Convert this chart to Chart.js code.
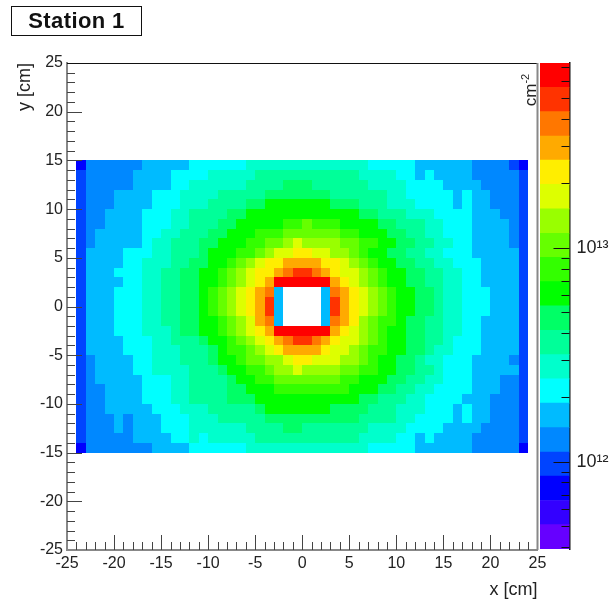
<!DOCTYPE html>
<html>
<head>
<meta charset="utf-8">
<script src="https://cdn.jsdelivr.net/npm/chart.js@4"></script>
<style>
  html, body { margin: 0; padding: 0; background: #fff; }
  #wrap { position: relative; width: 612px; height: 599px; overflow: hidden; font-family: "Liberation Sans", sans-serif; }
  canvas { position: absolute; left: 0; top: 0; filter: blur(0.45px); }
  #title { position: absolute; left: 11px; top: 6px; width: 129px; height: 28px; border: 1.5px solid #111; text-align: center;
           font-weight: bold; font-size: 22px; line-height: 28px; color: #111; letter-spacing: 0.4px; }
  #unit { position: absolute; left: 507px; top: 81px; width: 48px; height: 18px; line-height: 18px; font-size: 17px; color: #222;
          transform: rotate(-90deg); text-align: center; white-space: nowrap; }
  #unit sup { font-size: 11px; line-height: 0; }
</style>
</head>
<body>
<div id="wrap">
  <canvas id="map" width="612" height="599"></canvas>
  <canvas id="bar" width="612" height="599"></canvas>
  <div id="title">Station 1</div>
  <div id="unit">cm<sup>-2</sup></div>
</div>
<script>
// colour band per bin, top row (y 14..15) first, x -24..24. digits/letters index levelColors, '.' = empty
const levelRows = [
  '2 444444 55555 666666 777777  7777777 66666 555555 4444 3 2',
  '3 44444 5555 6666 77777 88888  888888 7777 66 5 6 5555 44444 3',
  '3 44444 5555 66 777777 8888 99  9 888888 7777 6666 5555 4444 3',
  '3 444 5555 666 7777 88888 9999  999 888888 77 66666 5 6 55 444 3',
  '3 444 5555 666 777 8888 99 aaaa  aaa 999 888 777 6666 5 6 55 444 3',
  '3 44 5555 666 77 8888 99 aaaaaa  aaaaaa 99 888 777 6666 555 44 3',
  '3 44 5555 666 77 888 99 aaaaa bb  c bbb aaaa 99 888 77 666 5555 4 3',
  '3 4 55555 66 77 888 99 aaa bbb cc  cccc bb aaa 99 88 77 666 5555 4 3',
  '3 4 55555 6 77 888 99 aaa bb cc d e  dddd cc bb aa 99 88 77 66 5555 4 3',
  '3 5555 666 77 888 9 aaa bb c d ee f  f ee dd c b aa 99 88 77 666 55555 3',
  '3 5555 66 777 88 99 aa b c d e ff gg  gg f f e d c b aa 99 88 77 666 5555 3',
  '3 555 666 77 88 99 aa b c d e f f g h i  i h g f e e d c b aa 99 88 77 66 5555 3',
  '3 5555 66 77 88 99 aa b c d e f g jjj  jjj g f e d c b aa 99 88 77 66 5555 3',
  '3 555 666 77 88 99 a b c d e f g h 5 ..  .. 5 h g f e d c b aa 99 8 77 666 555 3',
  '3 555 666 77 88 99 a b c d e f g i 5 ..  .. 5 i g f e d c b aa 99 8 77 666 555 3',
  '3 555 666 77 88 99 a b c d e f g i 5 ..  .. 5 i g f e d c b aa 99 8 77 666 555 3',
  '3 555 666 77 88 99 a a b c d e g h 5 ..  .. 5 h g f d c b b a 99 88 77 66 5555 3',
  '3 555 666 777 8 99 aa b c d e f g jjj  jjj g f e d c b aa 99 88 77 66 5555 3',
  '3 5555 666 77 888 9 aa b c d e f g h i  i h g f e e d c b aa 99 88 7 666 5555 3',
  '3 5555 666 777 888 9 a bb c d e f gg  gg f e e d c b b aa 99 8 77 666 5555 3',
  '3 4 5555 66 777 888 9 aa b cc d d e f  f eee dd c b aa 99 8 77 666 5555 4 3',
  '3 4 5555 66 7777 888 9 aa bb c dd e  dddd cc bb aa 99 88 7 666 55555 3',
  '3 4 55555 666 77 8888 9 aa bb ccc  cccc bb aaa 99 88 77 666 555 44 3',
  '3 44 5555 666 77 8888 99 aaa bbb  bbbbb aaa 99 88 77 6666 555 44 3',
  '3 44 5555 666 77 8888 999 aaaaa  aaaaaa 99 888 77 6666 555 444 3',
  '3 44 55555 666 777 88888 9 aaaa  aaa 9999 888 777 666 5 6 55 444 3',
  '3 444 5 4 555 666 777 88888 9999  999999 8888 77 6666 5 6 55 444 3',
  '3 444 5 4 555 666 777777 8888 99  8888888 7777 6666 5555 4444 3',
  '3 44444 5555 66 7 6 77777 88888  888888 7777 66 5 6 5555 44444 3',
  '2 4444444 5555 666666 777777  7777777 66666 555555 44444 2'
];

const levelColors = [
  '#6600ff', '#3300ff', '#0000ff', '#0044ff', '#0088ff', '#00bbff', '#00ffff', '#00ffcc', '#00ff99', '#00ff66',
  '#00ff00', '#33ff00', '#66ff00', '#99ff00', '#ddff00', '#ffee00', '#ffaa00', '#ff7700', '#ff3300', '#ff0000'
];

// colour bar band edges in cm-2, bottom to top
const levelEdges = [
  3.91e11, 5.08e11, 6.59e11, 8.57e11, 1.11e12, 1.445e12, 1.88e12, 2.44e12, 3.17e12, 4.11e12, 5.35e12,
  6.95e12, 9.02e12, 1.17e13, 1.52e13, 1.98e13, 2.57e13, 3.33e13, 4.33e13, 5.62e13, 7.31e13
];

const zMajorTicks = [1e12, 1e13];
const zMinorTicks = [4e11, 5e11, 6e11, 7e11, 8e11, 9e11, 2e12, 3e12, 4e12, 5e12, 6e12, 7e12, 8e12, 9e12,
  2e13, 3e13, 4e13, 5e13, 6e13, 7e13];

const axisTicks = [-25, -20, -15, -10, -5, 0, 5, 10, 15, 20, 25];
const axisMinor = [];
for (let v = -25; v <= 25; v++) if (v % 5 !== 0) axisMinor.push(v);

const xStart = -24, yTop = 15;
const cells = [];
levelRows.forEach((row, r) => {
  row.replace(/\s/g, '').split('').forEach((ch, c) => {
    if (ch === '.') return;
    cells.push({ x: xStart + c + 0.5, y: yTop - r - 0.5, level: parseInt(ch, 20) });
  });
});

const FONT = "'Liberation Sans', sans-serif";
const TEXT = '#222';

function fitHeight(h) { return scale => { scale.height = h; }; }
function fitWidth(w) { return scale => { scale.width = w; }; }

// filled bins, ticks pointing inwards and the open sides of the frame
const mapPlugin = {
  id: 'mapPlugin',
  beforeDatasetsDraw(chart) {
    const { ctx, scales: { x, y } } = chart;
    ctx.save();
    chart.data.datasets[0].data.forEach(d => {
      const x0 = Math.round(x.getPixelForValue(d.x - 0.5));
      const x1 = Math.round(x.getPixelForValue(d.x + 0.5));
      const y0 = Math.round(y.getPixelForValue(d.y + 0.5));
      const y1 = Math.round(y.getPixelForValue(d.y - 0.5));
      ctx.fillStyle = levelColors[d.level];
      ctx.fillRect(x0, y0, x1 - x0, y1 - y0);
    });
    ctx.restore();
  },
  afterDatasetsDraw(chart) {
    const { ctx, chartArea: a, scales: { x, y } } = chart;
    ctx.save();
    ctx.strokeStyle = '#444';
    ctx.lineWidth = 1;
    ctx.beginPath();
    const tick = (v, len) => {
      const px = Math.round(x.getPixelForValue(v)) + 0.5;
      ctx.moveTo(px, a.bottom);
      ctx.lineTo(px, a.bottom - len);
      const py = Math.round(y.getPixelForValue(v)) + 0.5;
      ctx.moveTo(a.left, py);
      ctx.lineTo(a.left + len, py);
    };
    axisTicks.slice(1, -1).forEach(v => tick(v, 15));
    axisMinor.forEach(v => tick(v, 8));
    ctx.stroke();
    ctx.strokeStyle = '#111';
    ctx.beginPath();
    ctx.moveTo(a.left, a.top + 0.5);
    ctx.lineTo(a.right, a.top + 0.5);
    ctx.stroke();
    ctx.strokeStyle = '#888';
    ctx.lineWidth = 2;
    ctx.beginPath();
    ctx.moveTo(a.right, a.top);
    ctx.lineTo(a.right, a.bottom);
    ctx.stroke();
    ctx.restore();
  }
};

new Chart(document.getElementById('map'), {
  type: 'scatter',
  data: { datasets: [{ data: cells, pointRadius: 0, pointHoverRadius: 0 }] },
  options: {
    responsive: false,
    animation: false,
    events: [],
    layout: { padding: { left: 0, top: 63, right: 74.5, bottom: 0 } },
    plugins: { legend: { display: false }, tooltip: { enabled: false } },
    scales: {
      x: {
        type: 'linear',
        min: -25,
        max: 25,
        afterFit: fitHeight(49),
        afterBuildTicks: s => { s.ticks = axisTicks.map(value => ({ value })); },
        grid: { display: false, drawTicks: false },
        border: { color: '#888', width: 2 },
        ticks: { color: TEXT, font: { family: FONT, size: 16 }, padding: 4, maxRotation: 0, autoSkip: false },
        title: { display: true, text: 'x [cm]', align: 'end', color: TEXT, font: { family: FONT, size: 18 }, padding: { top: 0, bottom: -2 } }
      },
      y: {
        type: 'linear',
        min: -25,
        max: 25,
        afterFit: fitWidth(67),
        afterBuildTicks: s => { s.ticks = axisTicks.map(value => ({ value })); },
        grid: { display: false, drawTicks: false },
        border: { color: '#888', width: 2 },
        ticks: { color: TEXT, font: { family: FONT, size: 16 }, padding: 4, autoSkip: false },
        title: { display: true, text: 'y [cm]', align: 'end', color: TEXT, font: { family: FONT, size: 18 }, padding: { top: 14, bottom: 0 } }
      }
    }
  },
  plugins: [mapPlugin]
});

// colour bar: minor and major ticks come off the right hand axis
const barTicks = {
  id: 'barTicks',
  afterDatasetsDraw(chart) {
    const { ctx, chartArea: a, scales: { y } } = chart;
    ctx.save();
    ctx.strokeStyle = '#111';
    ctx.lineWidth = 1;
    ctx.beginPath();
    const tick = (v, len) => {
      const py = Math.round(y.getPixelForValue(v)) + 0.5;
      ctx.moveTo(a.right, py);
      ctx.lineTo(a.right - len, py);
    };
    zMajorTicks.forEach(v => tick(v, 16));
    zMinorTicks.forEach(v => tick(v, 8));
    ctx.stroke();
    ctx.restore();
  }
};

new Chart(document.getElementById('bar'), {
  type: 'bar',
  data: {
    labels: [''],
    datasets: levelColors.map((color, i) => ({
      data: [[levelEdges[i], levelEdges[i + 1]]],
      backgroundColor: color,
      barPercentage: 1,
      categoryPercentage: 1,
      grouped: false
    }))
  },
  options: {
    responsive: false,
    animation: false,
    events: [],
    layout: { padding: { left: 540, top: 63, right: 0, bottom: 50 } },
    plugins: { legend: { display: false }, tooltip: { enabled: false } },
    scales: {
      x: { display: false },
      y: {
        type: 'logarithmic',
        position: 'right',
        min: levelEdges[0],
        max: levelEdges[levelEdges.length - 1],
        afterFit: fitWidth(42.5),
        afterBuildTicks: s => { s.ticks = zMajorTicks.map(value => ({ value, major: true })); },
        grid: { display: false, drawTicks: false },
        border: { color: '#111', width: 1.5 },
        ticks: {
          color: TEXT,
          font: { family: FONT, size: 18 },
          padding: 7,
          autoSkip: false,
          callback: v => (v === 1e12 ? '10\u00b9\u00b2' : '10\u00b9\u00b3')
        }
      }
    }
  },
  plugins: [barTicks]
});
</script>
</body>
</html>
